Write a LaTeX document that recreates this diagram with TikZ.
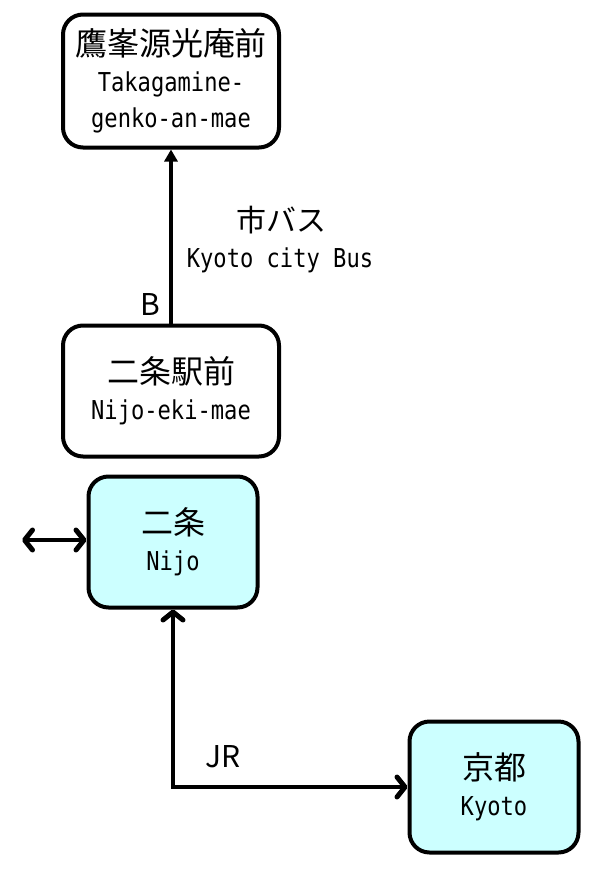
\documentclass[tikz,border=0pt]{standalone}
\usepackage{fontspec}
\setmainfont{Noto Sans CJK JP}
\newfontfamily\romaji[FakeStretch=0.85]{DejaVu Sans Mono}
\usetikzlibrary{positioning, arrows.meta}
\definecolor{jrcyan}{HTML}{CCFFFF}
\newcommand\rom[1]{{\romaji\fontsize{26}{31}\selectfont #1}}

\tikzset{
  stop/.style={draw, line width=4pt, rounded corners=20pt, align=center,
    inner sep=0pt, minimum height=131pt, font=\fontsize{32}{36}\selectfont},
  busstop/.style={stop, minimum width=216pt},
  jrstop/.style={stop, fill=jrcyan, minimum width=169pt},
  route/.style={line width=4pt},
  tag/.style={inner sep=0pt, font=\fontsize{30}{34}\selectfont},
  barb/.tip={Straight Barb[length=8pt, width=20pt, line width=5pt, round]}
}

\begin{document}
\begin{tikzpicture}[x=1pt, y=-1pt, on grid]
    \useasboundingbox (0,0) rectangle (602,871);

    \node[busstop, minimum height=133pt] (takagamine) at (171,81)
        {鷹峯源光庵前\\\rom{Takagamine-}\\\rom{genko-an-mae}};
    \node[busstop] (ekimae) [below=310pt of takagamine]
        {二条駅前\\\rom{Nijo-eki-mae}};
    \node[jrstop] (nijo) [below=151pt of ekimae, xshift=2pt]
        {二条\\\rom{Nijo}};
    \node[jrstop] (kyoto) [below right=245pt and 321pt of nijo]
        {京都\\\rom{Kyoto}};

    % bus
    \draw[route, -{Triangle[length=12pt, width=13pt]}] (ekimae) -- (takagamine);
    \node[tag] (bus) at (281,220) {市バス};
    \node[tag] (busroman) at (280,260) {\rom{Kyoto city Bus}};
    \node[tag] (busexit) at (150,304) {B};

    % JR
    \coordinate (west) at (22,540);
    \draw[route, barb-barb] (west) -- (west -| nijo.west);
    \draw[route, barb-barb] (nijo) |- (kyoto);
    \node[tag] (jr) at (223,757) {JR};
\end{tikzpicture}
\end{document}
